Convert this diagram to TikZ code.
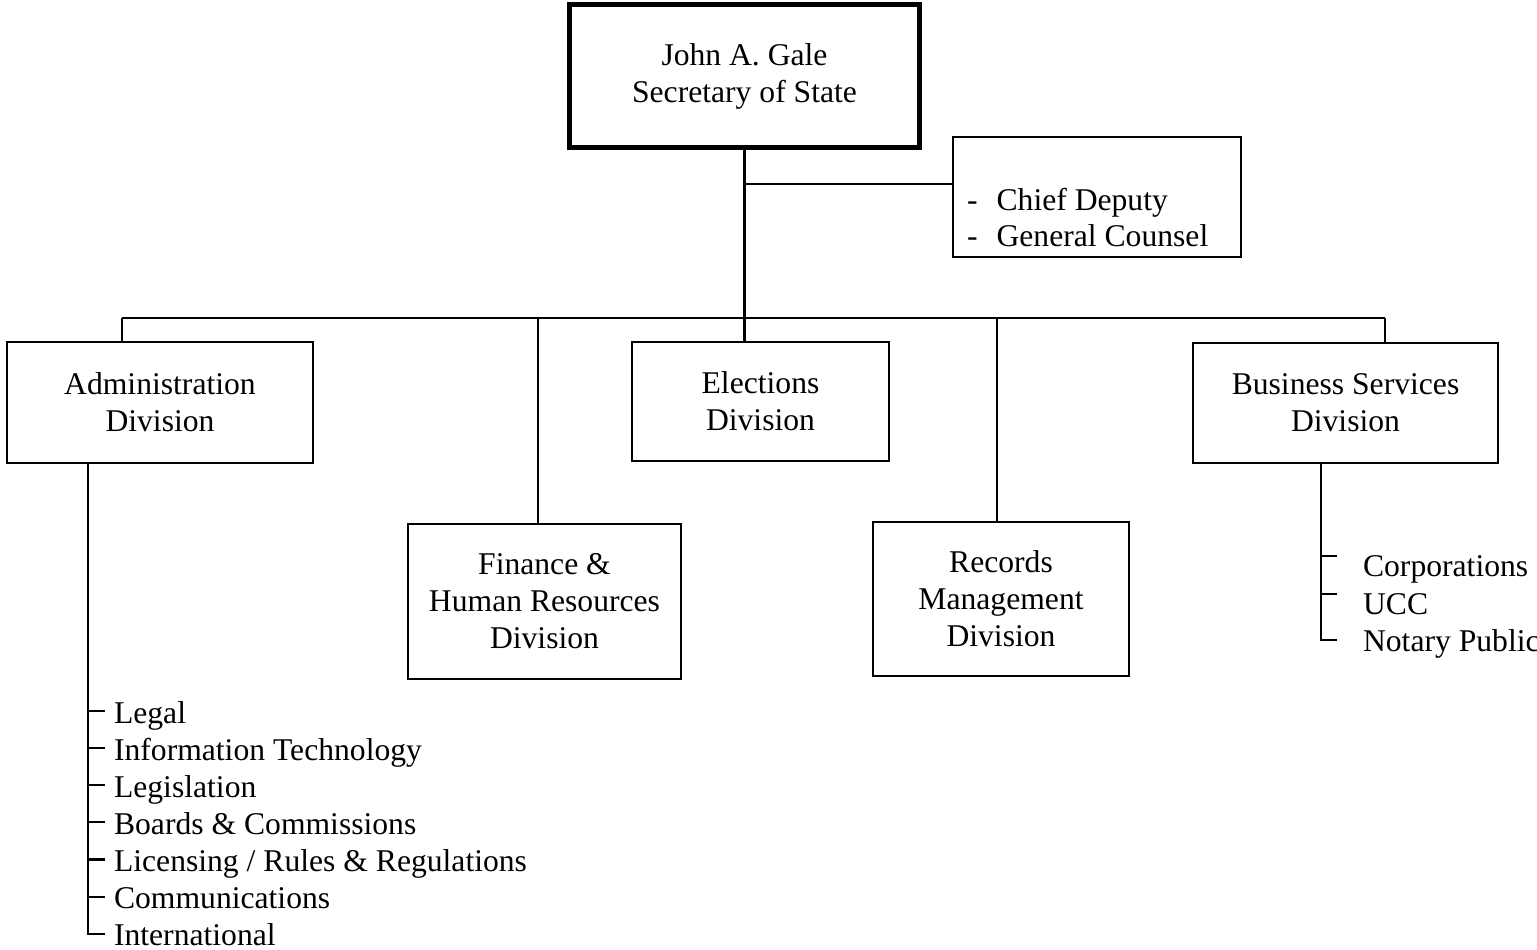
\documentclass[tikz,border=0pt]{standalone}
\usepackage{fontspec}
\setmainfont{Liberation Serif}

\tikzset{
  unit/.style={draw, line width=0.6pt, align=center, inner sep=0pt},
  chief/.style={unit, line width=1.4pt},
  item/.style={anchor=west, inner sep=0pt, text height=6.8pt, text depth=0pt},
}

\begin{document}
\begin{tikzpicture}[line width=0.6pt, font=\fontsize{9}{10.5}\selectfont]
  \useasboundingbox (0,0) rectangle (15.37,-9.49);

  \node[chief, minimum width=3.50cm, minimum height=1.43cm] (sos) at (7.445,-0.76) {John A. Gale\\Secretary of State};
  \node[unit, minimum width=2.88cm, minimum height=1.20cm] (counsel) at (10.97,-1.97) {};
  \node[item, align=left, text height=, text depth=] (deputies) at (9.66,-2.175) {-\hspace{0.6em}Chief Deputy\\-\hspace{0.6em}General Counsel};

  \node[unit, minimum width=3.06cm, minimum height=1.21cm] (admin) at (1.60,-4.025) {Administration\\Division};
  \node[unit, minimum width=2.73cm, minimum height=1.55cm] (finance) at (5.445,-6.015) {Finance \&\\Human Resources\\Division};
  \node[unit, minimum width=2.57cm, minimum height=1.19cm] (elections) at (7.605,-4.015) {Elections\\Division};
  \node[unit, minimum width=2.56cm, minimum height=1.54cm] (records) at (10.01,-5.99) {Records\\Management\\Division};
  \node[unit, minimum width=3.05cm, minimum height=1.20cm] (business) at (13.455,-4.03) {Business Services\\Division};

  \coordinate (busL) at (1.22,-3.18);
  \coordinate (busR) at (13.85,-3.18);
  \coordinate (counselfork) at (7.445,-1.84);
  \coordinate (finfork) at (5.38,-3.18);
  \coordinate (recfork) at (9.97,-3.18);
  \coordinate (adminstem) at (0.88,-4.63);
  \coordinate (bizstem) at (13.21,-4.63);

  \draw (sos.south) -- (sos.south |- elections.north);
  \draw (counselfork) -- (counselfork -| counsel.west);
  \draw (busL) -- (busR);
  \draw (busL) -- (busL |- admin.north);
  \draw (finfork) -- (finfork |- finance.north);
  \draw (recfork) -- (recfork |- records.north);
  \draw (busR) -- (busR |- business.north);

  \foreach \unitname [count=\i] in {Legal, Information Technology, Legislation, Boards \& Commissions, Licensing / Rules \& Regulations, Communications, International}
    \node[item] (adm\i) at (1.13,{-6.74-0.371*\i}) {\unitname};
  \foreach \i in {1,...,6}
    \draw (adminstem |- adm\i.west) -- ([xshift=-0.08cm]adm\i.west);
  \draw (adminstem) |- ([xshift=-0.08cm]adm7.west);

  \node[item] (corp) at (13.62,-5.65) {Corporations};
  \node[item] (ucc) at (13.62,-6.03) {UCC};
  \node[item] (notary) at (13.62,-6.40) {Notary Public};
  \draw ([shift={(-0.25,0.09)}]corp.west) -- ++(-0.16,0);
  \draw ([shift={(-0.25,0.09)}]ucc.west) -- ++(-0.16,0);
  \draw (bizstem) |- ([xshift=-0.25cm]notary.west);
\end{tikzpicture}
\end{document}
